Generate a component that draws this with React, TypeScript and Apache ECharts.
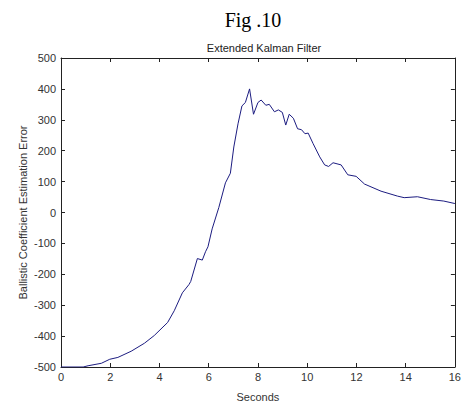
import React, { useEffect, useRef } from "react";
import * as echarts from "echarts";

const seconds = [0, 0.9, 1.1, 1.64, 1.98, 2.31, 2.85, 3.39, 3.79, 4.33, 4.6, 4.93, 5.2, 5.27, 5.54, 5.74, 5.87, 5.97, 6.14, 6.41, 6.68, 6.88, 7.02, 7.19, 7.35, 7.49, 7.66, 7.82, 8.0, 8.13, 8.32, 8.46, 8.67, 8.83, 8.99, 9.13, 9.27, 9.44, 9.61, 9.77, 9.91, 10.04, 10.24, 10.51, 10.71, 10.87, 11.05, 11.38, 11.65, 11.99, 12.33, 13.0, 13.67, 13.94, 14.48, 15.01, 15.55, 16.0];
const errors = [-500, -500, -496, -488, -475, -469, -449, -423, -398, -356, -318, -260, -233, -223, -149, -154, -127, -111, -53, 16, 96, 127, 212, 287, 345, 356, 400, 318, 356, 364, 347, 350, 326, 332, 324, 283, 318, 305, 271, 268, 255, 257, 223, 180, 154, 149, 161, 154, 122, 117, 92, 69, 53, 48, 51, 42, 37, 29];

const figTitle = "Fig .10";
const chartTitle = "Extended Kalman Filter";
const xName = "Seconds";
const yName = "Ballistic Coefficient Estimation Error";

export default function App() {
  const ref = useRef<HTMLDivElement>(null);
  useEffect(() => {
    if (!ref.current) return;
    const chart = echarts.init(ref.current, undefined, { renderer: "svg" });
    const data = seconds.map((s, i) => [s, errors[i]]);
    const axisLine = { show: true, onZero: false, lineStyle: { color: "#222", width: 1 } };
    const tick = { show: true, inside: true, length: 4, lineStyle: { color: "#222" } };
    const label = { color: "#333", fontFamily: "Liberation Sans, Arial, sans-serif", fontSize: 11 };
    chart.setOption({
      animation: false,
      backgroundColor: "#fff",
      title: [
        {
          text: figTitle,
          left: 248,
          top: 5,
          textAlign: "center",
          textStyle: { fontFamily: "Liberation Serif, Times New Roman, serif", fontSize: 20, fontWeight: "normal", color: "#000" },
        },
        {
          text: chartTitle,
          left: 259,
          top: 37,
          textAlign: "center",
          textStyle: { fontFamily: "Liberation Sans, Arial, sans-serif", fontSize: 11, fontWeight: "normal", color: "#222" },
        },
      ],
      grid: { left: 61, right: 6, top: 58, bottom: 35, containLabel: false },
      xAxis: [
        {
          type: "value",
          min: 0,
          max: 16,
          interval: 2,
          name: xName,
          nameLocation: "middle",
          nameGap: 24,
          nameMoveOverlap: false,
          nameTextStyle: label,
          axisLine,
          axisTick: tick,
          axisLabel: { ...label, margin: 4 },
          splitLine: { show: false },
        },
        {
          type: "value",
          position: "top",
          min: 0,
          max: 16,
          interval: 2,
          axisLine,
          axisTick: tick,
          axisLabel: { show: false },
          splitLine: { show: false },
        },
      ],
      yAxis: [
        {
          type: "value",
          min: -500,
          max: 500,
          interval: 100,
          name: yName,
          nameLocation: "middle",
          nameGap: 33,
          nameMoveOverlap: false,
          nameTextStyle: label,
          axisLine,
          axisTick: tick,
          axisLabel: { ...label, margin: 5 },
          splitLine: { show: false },
        },
        {
          type: "value",
          position: "right",
          min: -500,
          max: 500,
          interval: 100,
          axisLine,
          axisTick: tick,
          axisLabel: { show: false },
          splitLine: { show: false },
        },
      ],
      series: [
        {
          type: "line",
          data,
          showSymbol: false,
          lineStyle: { color: "#1c1c80", width: 1 },
          xAxisIndex: 0,
          yAxisIndex: 0,
        },
      ],
    });
    return () => chart.dispose();
  }, []);
  return <div ref={ref} style={{ position: "fixed", left: 0, top: 0, width: 464, height: 407 }} />;
}
